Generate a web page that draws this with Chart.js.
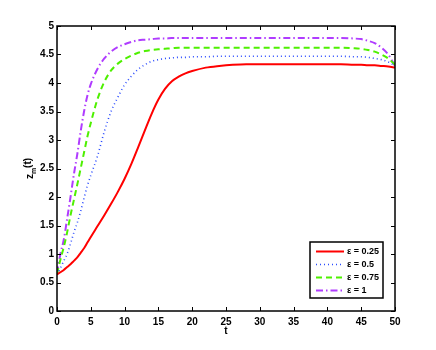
<!DOCTYPE html>
<html>
<head>
<meta charset="utf-8">
<script src="https://cdn.jsdelivr.net/npm/chart.js@4/dist/chart.umd.min.js"></script>
<style>
html,body{margin:0;padding:0;background:#fff;}
#wrap{width:436px;height:350px;}
</style>
</head>
<body>
<div id="wrap"><canvas id="c" width="436" height="350"></canvas></div>
<script>
const tValues = [0,0.5,1,1.5,2,2.5,3,3.5,4,4.5,5,6,7,8,9,10,11,12,13,14,15,16,17,18,19,20,22,24,26,28,30,35,40,42,44,45,46,47,48,49,50];
const eps025 = [0.64,0.68,0.72,0.77,0.82,0.88,0.94,1.02,1.10,1.20,1.30,1.49,1.68,1.88,2.09,2.32,2.58,2.87,3.17,3.46,3.71,3.90,4.03,4.11,4.17,4.21,4.27,4.30,4.32,4.33,4.33,4.33,4.33,4.33,4.32,4.32,4.31,4.31,4.30,4.29,4.27];
const eps05  = [0.64,0.75,0.88,1.00,1.18,1.38,1.55,1.75,1.98,2.20,2.38,2.72,3.15,3.50,3.75,3.97,4.12,4.24,4.32,4.38,4.41,4.43,4.44,4.45,4.45,4.46,4.46,4.47,4.47,4.47,4.47,4.47,4.47,4.47,4.46,4.46,4.45,4.43,4.41,4.37,4.30];
const eps075 = [0.65,0.90,1.12,1.38,1.68,1.95,2.22,2.50,2.78,3.06,3.30,3.72,4.02,4.22,4.34,4.42,4.48,4.53,4.56,4.58,4.59,4.60,4.61,4.62,4.62,4.62,4.62,4.62,4.62,4.62,4.62,4.62,4.62,4.62,4.61,4.60,4.58,4.55,4.50,4.43,4.32];
const eps1   = [0.66,1.00,1.25,1.62,2.00,2.40,2.75,3.15,3.50,3.78,3.98,4.25,4.43,4.55,4.63,4.68,4.72,4.75,4.76,4.77,4.78,4.78,4.79,4.79,4.79,4.79,4.79,4.79,4.79,4.79,4.79,4.79,4.79,4.79,4.78,4.77,4.74,4.70,4.62,4.50,4.30];
const seriesLabels = ['ε = 0.25','ε = 0.5','ε = 0.75','ε = 1'];
const xTickLabels = ['0','5','10','15','20','25','30','35','40','45','50'];
const yTickLabels = ['0','0.5','1','1.5','2','2.5','3','3.5','4','4.5','5'];
const xTitle = 't';
const yTitleMain = 'z', yTitleSub = 'm', yTitleTail = '(t)';

const FONT = 'Liberation Sans, Arial, Helvetica, sans-serif';
const pts = arr => arr.map((v,i)=>({x:tValues[i], y:v}));

const styles = [
  {color:'#ff0000', dash:[], width:2},
  {color:'#2b4cff', dash:[1,3], width:1.6},
  {color:'#4ef000', dash:[6,4], width:2},
  {color:'#b03cff', dash:[7,3,1.5,3], width:2}
];
const allSeries = [eps025, eps05, eps075, eps1];

const datasets = allSeries.map((s,i)=>({
  label: seriesLabels[i],
  data: pts(s),
  borderColor: styles[i].color,
  borderDash: styles[i].dash,
  borderWidth: styles[i].width,
  pointRadius: 0,
  fill: false,
  cubicInterpolationMode: 'monotone',
  borderCapStyle: 'butt'
}));

const decorPlugin = {
  id: 'decor',
  afterDraw(chart) {
    const ctx = chart.ctx;
    const a = chart.chartArea;
    const xs = chart.scales.x, ys = chart.scales.y;
    ctx.save();
    ctx.strokeStyle = '#000';
    ctx.lineWidth = 1.5;
    ctx.strokeRect(a.left, a.top, a.right - a.left, a.bottom - a.top);
    ctx.lineWidth = 1;
    const tl = 4;
    ctx.beginPath();
    xs.ticks.forEach(t => {
      const px = Math.round(xs.getPixelForValue(t.value)) + 0.5;
      ctx.moveTo(px, a.bottom); ctx.lineTo(px, a.bottom - tl);
      ctx.moveTo(px, a.top); ctx.lineTo(px, a.top + tl);
    });
    ys.ticks.forEach(t => {
      const py = Math.round(ys.getPixelForValue(t.value)) + 0.5;
      ctx.moveTo(a.left, py); ctx.lineTo(a.left + tl, py);
      ctx.moveTo(a.right, py); ctx.lineTo(a.right - tl, py);
    });
    ctx.stroke();
    ctx.fillStyle = '#000';
    ctx.font = 'bold 10px ' + FONT;
    ctx.textAlign = 'center';
    ctx.textBaseline = 'middle';
    ctx.fillText(xTitle, (a.left + a.right) / 2, 331);
    ctx.save();
    ctx.translate(33, (a.top + a.bottom) / 2);
    ctx.rotate(-Math.PI / 2);
    ctx.textBaseline = 'alphabetic';
    ctx.textAlign = 'left';
    ctx.font = 'bold 10px ' + FONT;
    const w1 = ctx.measureText(yTitleMain).width;
    ctx.font = 'bold 7px ' + FONT;
    const w2 = ctx.measureText(yTitleSub).width;
    ctx.font = 'bold 10px ' + FONT;
    const w3 = ctx.measureText(yTitleTail).width;
    let x0 = -(w1 + w2 + w3) / 2;
    ctx.fillText(yTitleMain, x0, 0);
    ctx.font = 'bold 7px ' + FONT;
    ctx.fillText(yTitleSub, x0 + w1, 3);
    ctx.font = 'bold 10px ' + FONT;
    ctx.fillText(yTitleTail, x0 + w1 + w2, -2);
    ctx.restore();
    const lx = 310, ly = 242, lw = 73, lh = 56;
    ctx.fillStyle = '#fff';
    ctx.fillRect(lx, ly, lw, lh);
    ctx.strokeStyle = '#000';
    ctx.lineWidth = 1.5;
    ctx.strokeRect(lx, ly, lw, lh);
    chart.data.datasets.forEach((ds, i) => {
      const yy = ly + 9.5 + i * 13;
      ctx.beginPath();
      ctx.strokeStyle = ds.borderColor;
      ctx.lineWidth = ds.borderWidth;
      ctx.setLineDash(ds.borderDash);
      ctx.moveTo(lx + 6, yy);
      ctx.lineTo(lx + 34, yy);
      ctx.stroke();
      ctx.setLineDash([]);
      ctx.fillStyle = '#000';
      ctx.font = 'bold 9px ' + FONT;
      ctx.textAlign = 'left';
      ctx.textBaseline = 'middle';
      ctx.fillText(ds.label, lx + 37, yy);
    });
    ctx.restore();
  }
};

new Chart(document.getElementById('c'), {
  type: 'line',
  data: { datasets },
  options: {
    responsive: false,
    animation: false,
    layout: { padding: { top: 26, right: 41, left: 0, bottom: 0 } },
    plugins: { legend: { display: false }, tooltip: { enabled: false } },
    scales: {
      x: {
        type: 'linear', min: 0, max: 50,
        afterFit: s => { s.height = 39; },
        grid: { display: false, drawTicks: false },
        border: { display: false },
        ticks: {
          stepSize: 5, padding: 5, color: '#000', maxRotation: 0,
          font: { family: FONT, size: 10, weight: 'bold' },
          callback: (v, i) => xTickLabels[i]
        }
      },
      y: {
        type: 'linear', min: 0, max: 5,
        afterFit: s => { s.width = 57; },
        grid: { display: false, drawTicks: false },
        border: { display: false },
        ticks: {
          stepSize: 0.5, padding: 3, color: '#000',
          font: { family: FONT, size: 10, weight: 'bold' },
          callback: (v, i) => yTickLabels[i]
        }
      }
    }
  },
  plugins: [decorPlugin]
});
</script>
</body>
</html>
